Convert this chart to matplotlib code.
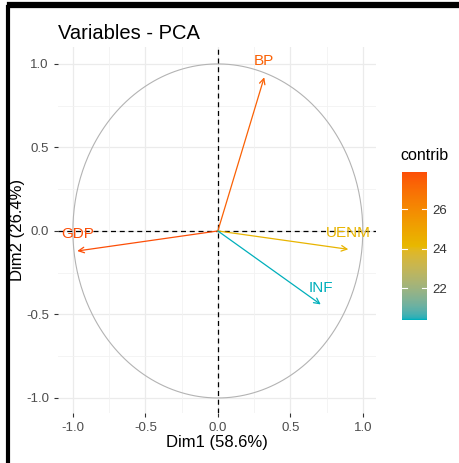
import numpy as np
import matplotlib.pyplot as plt
from matplotlib.colors import ListedColormap, Normalize, to_rgb
from matplotlib.lines import Line2D
import matplotlib.cm as cm

plt.rcParams['font.family'] = ['Liberation Sans', 'DejaVu Sans']

# PCA variable coordinates (Dim1, Dim2) and contributions
variables = ['GDP', 'BP', 'UENM', 'INF']
dim1 = [-0.97, 0.32, 0.90, 0.71]
dim2 = [-0.12, 0.92, -0.11, -0.44]
contrib = [27.9, 27.4, 24.3, 20.4]
grad_cols = ['#00AFBB', '#E7B800', '#FC4E07']


# ggplot-style gradient: interpolate in Lab space
def rgb2lab(c):
    c = np.array(c)
    c = np.where(c > 0.04045, ((c + 0.055) / 1.055) ** 2.4, c / 12.92)
    M = np.array([[0.4124, 0.3576, 0.1805], [0.2126, 0.7152, 0.0722], [0.0193, 0.1192, 0.9505]])
    xyz = M @ c / np.array([0.95047, 1.0, 1.08883])
    f = np.where(xyz > 0.008856, np.cbrt(xyz), 7.787 * xyz + 16 / 116)
    return np.array([116 * f[1] - 16, 500 * (f[0] - f[1]), 200 * (f[1] - f[2])])


def lab2rgb(lab):
    fy = (lab[1 - 1] + 16) / 116
    fx = fy + lab[1] / 500
    fz = fy - lab[2] / 200
    f = np.array([fx, fy, fz])
    xyz = np.where(f ** 3 > 0.008856, f ** 3, (f - 16 / 116) / 7.787) * np.array([0.95047, 1.0, 1.08883])
    Minv = np.array([[3.2406, -1.5372, -0.4986], [-0.9689, 1.8758, 0.0415], [0.0557, -0.2040, 1.0570]])
    c = Minv @ xyz
    c = np.where(c > 0.0031308, 1.055 * np.abs(c) ** (1 / 2.4) - 0.055, 12.92 * c)
    return np.clip(c, 0, 1)


labs = [rgb2lab(to_rgb(c)) for c in grad_cols]
lut = []
for s in np.linspace(0, 1, 256):
    i = 0 if s <= 0.5 else 1
    u = s / 0.5 - i
    lut.append(lab2rgb(labs[i] * (1 - u) + labs[i + 1] * u))
cmap = ListedColormap(lut)
norm = Normalize(vmin=min(contrib), vmax=max(contrib))

fig = plt.figure(figsize=(4.6, 4.63), dpi=100)
ax = fig.add_axes([0.126, 0.108, 0.691, 0.790])

# grid like theme_minimal
for v in [-1, -0.5, 0, 0.5, 1]:
    ax.axvline(v, color='#EBEBEB', lw=0.9, zorder=0)
    ax.axhline(v, color='#EBEBEB', lw=0.9, zorder=0)
for v in [-0.75, -0.25, 0.25, 0.75]:
    ax.axvline(v, color='#F2F2F2', lw=0.6, zorder=0)
    ax.axhline(v, color='#F2F2F2', lw=0.6, zorder=0)

t = np.linspace(0, 2 * np.pi, 400)
ax.plot(np.cos(t), np.sin(t), color='#B3B3B3', lw=0.8, zorder=1)
ax.axhline(0, color='black', ls=(0, (4, 3)), lw=0.9, zorder=2)
ax.axvline(0, color='black', ls=(0, (4, 3)), lw=0.9, zorder=2)

for name, x, y, c in zip(variables, dim1, dim2, contrib):
    col = cmap(norm(c))
    ax.annotate('', xy=(x, y), xytext=(0, 0),
                arrowprops=dict(arrowstyle='->', color=col, lw=0.9,
                                shrinkA=0, shrinkB=0, mutation_scale=10), zorder=3)
    ax.text(x, y + 0.1, name, color=col, fontsize=11, ha='center', va='center', zorder=4)

ax.set_xlim(-1.103, 1.09)
ax.set_ylim(-1.09, 1.10)
ax.set_xticks([-1.0, -0.5, 0.0, 0.5, 1.0])
ax.set_yticks([-1.0, -0.5, 0.0, 0.5, 1.0])
ax.set_xticklabels(['-1.0', '-0.5', '0.0', '0.5', '1.0'])
ax.set_yticklabels(['-1.0', '-0.5', '0.0', '0.5', '1.0'])
ax.tick_params(colors='#333333', labelcolor='#4D4D4D', labelsize=9.5, length=3, width=0.8)
for s in ax.spines.values():
    s.set_visible(False)
ax.set_xlabel('Dim1 (58.6%)', fontsize=12, labelpad=1)
ax.set_ylabel('Dim2 (26.4%)', fontsize=12, labelpad=1)
ax.set_title('Variables - PCA', fontsize=14.5, loc='left', x=0.0, pad=6)

cax = fig.add_axes([402 / 460, 1 - 320 / 463, 25 / 460, 148 / 463])
sm = cm.ScalarMappable(norm=norm, cmap=cmap)
cb = fig.colorbar(sm, cax=cax, ticks=[22, 24, 26])
cb.outline.set_visible(False)
cb.ax.tick_params(length=0, labelsize=9.5, labelcolor='#333333', pad=4)
for tk in [22, 24, 26]:
    cax.plot([0, 0.2], [tk, tk], color='white', lw=0.8, transform=cax.get_yaxis_transform())
    cax.plot([0.8, 1.0], [tk, tk], color='white', lw=0.8, transform=cax.get_yaxis_transform())
fig.text(400 / 460, 1 - 155 / 463, 'contrib', fontsize=11.5, va='center', ha='left')

# black screenshot frame
fig.add_artist(Line2D([10 / 460, 1], [1 - 4.5 / 463] * 2, color='black', lw=4.5))
fig.add_artist(Line2D([8 / 460] * 2, [1 - 7 / 463, 0], color='black', lw=3))

fig.savefig('out.png', dpi=100)
